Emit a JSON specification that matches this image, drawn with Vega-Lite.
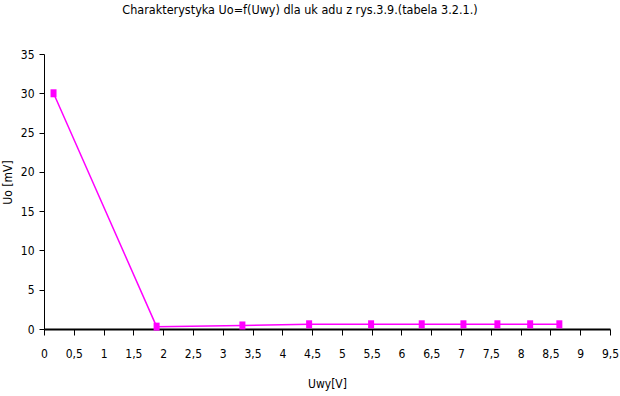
{
  "$schema": "https://vega.github.io/schema/vega-lite/v6.json",
  "width": 566,
  "height": 275,
  "autosize": "none",
  "padding": {"left": 44, "top": 54, "right": 10, "bottom": 67},
  "background": "white",
  "config": {
    "view": {"stroke": null},
    "font": "DejaVu Sans Condensed"
  },
  "title": {
    "text": "Charakterystyka Uo=f(Uwy) dla uk adu z rys.3.9.(tabela 3.2.1.)",
    "fontSize": 12.5,
    "fontWeight": "normal",
    "color": "black",
    "anchor": "middle",
    "dx": -27,
    "offset": 32
  },
  "data": {
    "values": [
      {"Uwy": 0.16, "Uo": 30.0},
      {"Uwy": 1.89, "Uo": 0.3},
      {"Uwy": 3.33, "Uo": 0.45},
      {"Uwy": 4.45, "Uo": 0.6},
      {"Uwy": 5.49, "Uo": 0.6},
      {"Uwy": 6.34, "Uo": 0.6},
      {"Uwy": 7.04, "Uo": 0.6},
      {"Uwy": 7.61, "Uo": 0.6},
      {"Uwy": 8.16, "Uo": 0.6},
      {"Uwy": 8.65, "Uo": 0.6}
    ]
  },
  "encoding": {
    "x": {
      "field": "Uwy",
      "type": "quantitative",
      "scale": {"domain": [0, 9.5], "nice": false, "zero": false},
      "axis": {
        "title": "Uwy[V]",
        "values": [0, 0.5, 1, 1.5, 2, 2.5, 3, 3.5, 4, 4.5, 5, 5.5, 6, 6.5, 7, 7.5, 8, 8.5, 9, 9.5],
        "format": ".1~f",
        "labelExpr": "replace(datum.label, '.', ',')",
        "grid": false,
        "domainColor": "black",
        "domainWidth": 2,
        "tickColor": "black",
        "tickSize": 6,
        "tickWidth": 1,
        "labelColor": "black",
        "labelFontSize": 12,
        "labelPadding": 13,
        "labelFlush": false,
        "titleColor": "black",
        "titleFontSize": 12,
        "titleFontWeight": "normal",
        "titleY": 54,
        "titleBaseline": "middle"
      }
    },
    "y": {
      "field": "Uo",
      "type": "quantitative",
      "scale": {"domain": [0, 35], "nice": false},
      "axis": {
        "title": "Uo [mV]",
        "values": [0, 5, 10, 15, 20, 25, 30, 35],
        "grid": false,
        "domainColor": "black",
        "domainWidth": 1,
        "tickColor": "black",
        "tickSize": 5,
        "tickWidth": 1,
        "labelColor": "black",
        "labelFontSize": 12,
        "labelPadding": 5,
        "labelFlush": false,
        "titleColor": "black",
        "titleFontSize": 12,
        "titleFontWeight": "normal",
        "titleX": -37,
        "titleY": 128,
        "titleAngle": -90,
        "titleBaseline": "middle",
        "titleAlign": "center"
      }
    }
  },
  "layer": [
    {"mark": {"type": "line", "color": "#FF00FF", "strokeWidth": 1.5}},
    {
      "mark": {
        "type": "point",
        "filled": true,
        "opacity": 1,
        "color": "#FF00FF",
        "shape": "M-0.75,-1H0.75V1H-0.75Z",
        "size": 64
      }
    }
  ]
}
